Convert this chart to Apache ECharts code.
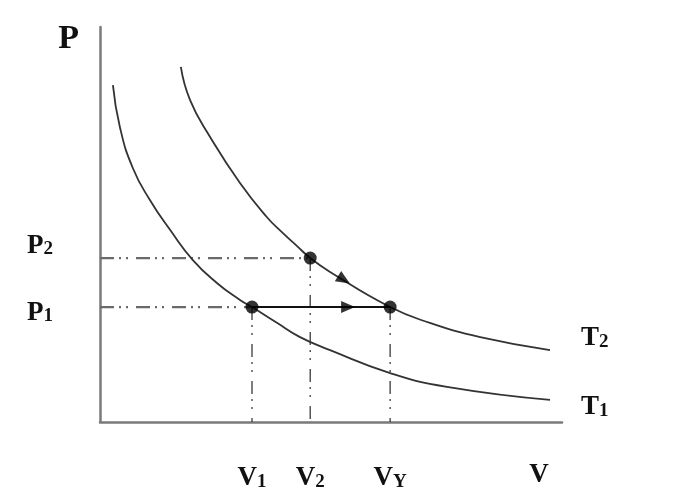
<!DOCTYPE html>
<html>
<head>
<meta charset="utf-8">
<script src="https://cdn.jsdelivr.net/npm/echarts@6/dist/echarts.min.js"></script>
<style>
html,body{margin:0;padding:0;background:#fff;}
#chart{width:673px;height:494px;}
</style>
</head>
<body>
<div id="chart"></div>
<script>
// ---- data ----
const volumeTicks = [3.29, 4.55, 6.28];          // V1, V2, VY
const volumeSubs = ['1', '2', 'Y'];
const pressureTicks = [2.91, 4.15];              // P1, P2
const pressureSubs = ['1', '2'];
const isothermT1 = [[0.28,8.53],[0.43,7.47],[0.71,6.43],[1.08,5.62],[1.52,4.86],[2.01,4.10],[2.53,3.52],[3.03,3.09],[3.29,2.91],[3.83,2.51],[4.33,2.15],[4.98,1.82],[6.28,1.24],[7.51,0.89],[9.74,0.56]];
const isothermT2 = [[1.75,8.99],[1.95,8.15],[2.38,7.22],[3.03,6.05],[3.61,5.19],[3.96,4.78],[4.26,4.46],[4.55,4.15],[4.98,3.80],[6.28,2.91],[7.14,2.51],[8.23,2.15],[9.74,1.82]];
const states = [[3.29,2.91],[4.55,4.15],[6.28,2.91]];   // (V1,P1), (V2,P2), (VY,P1)
const isobarArrow = [5.37, 2.91];
const isothermArrow = [5.28, 3.60];

// ---- styles ----
const FONT = "'Liberation Serif','Times New Roman',serif";
const rich = {
  m: {fontFamily: FONT, fontWeight: 'bold', fontSize: 27, lineHeight: 30, color: '#111', verticalAlign: 'bottom'},
  s: {fontFamily: FONT, fontWeight: 'bold', fontSize: 19, lineHeight: 14, color: '#111', verticalAlign: 'bottom'},
  gapUp: {fontSize: 10, lineHeight: 28},
  gapDown: {fontSize: 8, lineHeight: 8}
};
const dashDot = [14,5,2,5,2,8];
const vDash = [13,5,2,6,2,9];

const guideSeries = [];
pressureTicks.forEach((p, i) => {
  const v = i === 0 ? states[0][0] : states[1][0];
  guideSeries.push({type:'line', silent:true, symbol:'none', data:[[0,p],[v,p]],
    lineStyle:{color:'#6a6a6a', width:2.2, type:dashDot}, z:2});
});
volumeTicks.forEach((v, i) => {
  const p = states[i][1];
  guideSeries.push({type:'line', silent:true, symbol:'none', data:[[v,p],[v,0]],
    lineStyle:{color:'#3a3a3a', width:1.3, type:vDash}, z:2});
});

const chart = echarts.init(document.getElementById('chart'), null, {renderer:'canvas'});
chart.setOption({
  animation: false,
  backgroundColor: '#fff',
  grid: {left: 100, right: 111, top: 27, bottom: 72, containLabel: false},
  xAxis: {
    type: 'value', min: 0, max: 10,
    axisLine: {show: true, onZero: false, lineStyle: {color: '#7a7a7a', width: 2.5}},
    axisTick: {show: false}, splitLine: {show: false},
    axisLabel: {
      customValues: volumeTicks, margin: 40, verticalAlign: 'top',
      formatter: (val) => {
        const i = volumeTicks.indexOf(val);
        return '{m|V}{s|' + volumeSubs[i] + '}';
      },
      rich: rich
    },
    name: 'V', nameLocation: 'end', nameGap: -23,
    nameTextStyle: {fontFamily: FONT, fontWeight: 'bold', fontSize: 27, lineHeight: 30, color: '#111',
      align: 'center', verticalAlign: 'top', padding: [38,0,0,0]}
  },
  yAxis: {
    type: 'value', min: 0, max: 10,
    axisLine: {show: true, onZero: false, lineStyle: {color: '#7a7a7a', width: 2.5}},
    axisTick: {show: false}, splitLine: {show: false},
    axisLabel: {
      customValues: pressureTicks, margin: 47,
      formatter: (val) => {
        const i = pressureTicks.indexOf(val);
        const txt = '{m|P}{s|' + pressureSubs[i] + '}';
        return i === 0 ? '{gapDown| }\n' + txt : txt + '\n{gapUp| }';
      },
      rich: rich
    },
    name: 'P', nameLocation: 'end', nameGap: -12,
    nameTextStyle: {fontFamily: FONT, fontWeight: 'bold', fontSize: 34, lineHeight: 36, color: '#111',
      align: 'right', verticalAlign: 'middle', padding: [0,21,0,0]}
  },
  series: [
    ...guideSeries,
    {type:'line', name:'T1', data: isothermT1, symbol:'none', smooth:0.5,
      lineStyle:{color:'#333', width:1.8}, z:3,
      endLabel:{show:true, formatter:'{m|T}{s|1}', rich: rich, distance: 31, offset:[0,6]}},
    {type:'line', name:'T2', data: isothermT2, symbol:'none', smooth:0.5,
      lineStyle:{color:'#333', width:1.8}, z:3,
      endLabel:{show:true, formatter:'{m|T}{s|2}', rich: rich, distance: 31, offset:[0,-14]}},
    {type:'line', name:'isobar', data:[states[0], states[2]], symbol:'none',
      lineStyle:{color:'#111', width:2}, z:4},
    {type:'scatter', data: states, symbol:'circle', symbolSize:13,
      itemStyle:{color:'#000'}, z:6},
    {type:'scatter', data: [
        {value: isobarArrow, symbolRotate: -90},
        {value: isothermArrow, symbolRotate: -122}
      ], symbol:'triangle', symbolSize:[12,14],
      itemStyle:{color:'#000'}, z:6}
  ]
});
</script>
</body>
</html>
